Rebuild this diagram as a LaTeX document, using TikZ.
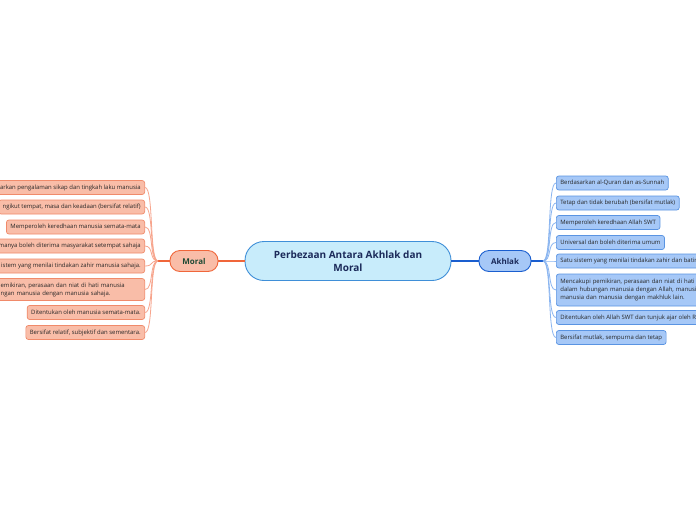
\documentclass[tikz,border=0pt]{standalone}
\usepackage{fontspec}
\setmainfont{Open Sans}
\definecolor{mleaffill}{HTML}{F9BDA8}
\definecolor{mleafdraw}{HTML}{F08A6A}
\definecolor{mline}{HTML}{F7A48C}
\definecolor{mmain}{HTML}{F0663A}
\definecolor{aleaffill}{HTML}{A6C8F7}
\definecolor{aleafdraw}{HTML}{5A94E2}
\definecolor{aline}{HTML}{8AB5F0}
\definecolor{amain}{HTML}{1A5ECF}
\definecolor{cfill}{HTML}{C8ECFB}
\definecolor{cdraw}{HTML}{3F8FD8}
\definecolor{ctext}{HTML}{1B2A5A}
\definecolor{mtext}{HTML}{1E4A34}
\tikzset{
  leaf/.style={rounded corners=2.5pt, inner xsep=4pt, inner ysep=0pt, minimum height=14pt,
    font=\fontsize{5.95}{8}\selectfont, align=left, text=black!85},
  mleaf/.style={leaf, fill=mleaffill, draw=mleafdraw, line width=0.7pt, anchor=east},
  aleaf/.style={leaf, fill=aleaffill, draw=aleafdraw, line width=0.7pt, anchor=west},
  mlink/.style={draw=mline, line width=0.8pt},
  alink/.style={draw=aline, line width=0.8pt},
  mainbox/.style={fill=cfill, draw=cdraw, line width=0.9pt, rounded corners=19pt,
    minimum width=206pt, minimum height=39pt, align=center, text=ctext,
    font=\fontsize{10}{13}\selectfont\bfseries},
  topicm/.style={fill=mleaffill, draw=mmain, line width=0.9pt, rounded corners=10pt,
    minimum width=48pt, minimum height=21pt, text=mtext, font=\fontsize{8}{9}\selectfont\bfseries},
  topica/.style={fill=aleaffill, draw=amain, line width=0.9pt, rounded corners=10pt,
    minimum width=52pt, minimum height=21pt, text=ctext, font=\fontsize{8}{9}\selectfont\bfseries},
}
\begin{document}
\begin{tikzpicture}[x=1pt,y=-1pt]
\useasboundingbox (0,0) rectangle (696,520);
\fill[white] (0,0) rectangle (696,520);

\node[mainbox] (c) at (348,261) {Perbezaan Antara Akhlak dan\\Moral};
\node[topicm] (m) at (194,261) {Moral};
\node[topica] (a) at (505,261) {Akhlak};
\coordinate (jm) at (158,261);
\coordinate (ja) at (543,261);

\draw[draw=mmain, line width=1.3pt] (c.west) -- (m.east);
\draw[draw=amain, line width=1.3pt] (c.east) -- (a.west);
\draw[draw=mmain, line width=1.3pt] (m.west) -- (jm);
\draw[draw=amain, line width=1.3pt] (a.east) -- (ja);

% Moral leaves
\node[mleaf] (m1) at (145,187.5) {arkan pengalaman sikap dan tingkah laku manusia};
\node[mleaf] (m2) at (145,207) {ngikut tempat, masa dan keadaan (bersifat relatif)};
\node[mleaf] (m3) at (145,227) {Memperoleh keredhaan manusia semata-mata};
\node[mleaf] (m4) at (145,246) {manya boleh diterima masyarakat setempat sahaja};
\node[mleaf] (m5) at (145,266) {istem yang menilai tindakan zahir manusia sahaja.};
\node[mleaf, minimum height=22pt, text width=140pt] (m6) at (145,289.5) {emikiran, perasaan dan niat di hati manusia\\ngan manusia dengan manusia sahaja.};
\node[mleaf] (m7) at (145,312.5) {Ditentukan oleh manusia semata-mata.};
\node[mleaf] (m8) at (145,332.5) {Bersifat relatif, subjektif dan sementara.};

\foreach \n in {m1,m2,m3,m4,m5,m6,m7,m8}
  \draw[mlink] (jm) .. controls +(-9,0) and +(9,0) .. (\n.east);

% Akhlak leaves
\node[aleaf] (a1) at (556,183) {Berdasarkan al-Quran dan as-Sunnah};
\node[aleaf] (a2) at (556,203) {Tetap dan tidak berubah (bersifat mutlak)};
\node[aleaf] (a3) at (556,222.5) {Memperoleh keredhaan Allah SWT};
\node[aleaf] (a4) at (556,242.5) {Universal dan boleh diterima umum};
\node[aleaf] (a5) at (556,261) {Satu sistem yang menilai tindakan zahir dan batin};
\node[aleaf, minimum height=32pt, text width=160pt] (a6) at (556,290) {Mencakupi pemikiran, perasaan dan niat di hati m\\dalam hubungan manusia dengan Allah, manusia\\manusia dan manusia dengan makhluk lain.};
\node[aleaf] (a7) at (556,317.5) {Ditentukan oleh Allah SWT dan tunjuk ajar oleh R};
\node[aleaf] (a8) at (556,337.5) {Bersifat mutlak, sempurna dan tetap};

\foreach \n in {a1,a2,a3,a4,a5,a6,a7,a8}
  \draw[alink] (ja) .. controls +(9,0) and +(-9,0) .. (\n.west);
\end{tikzpicture}
\end{document}
